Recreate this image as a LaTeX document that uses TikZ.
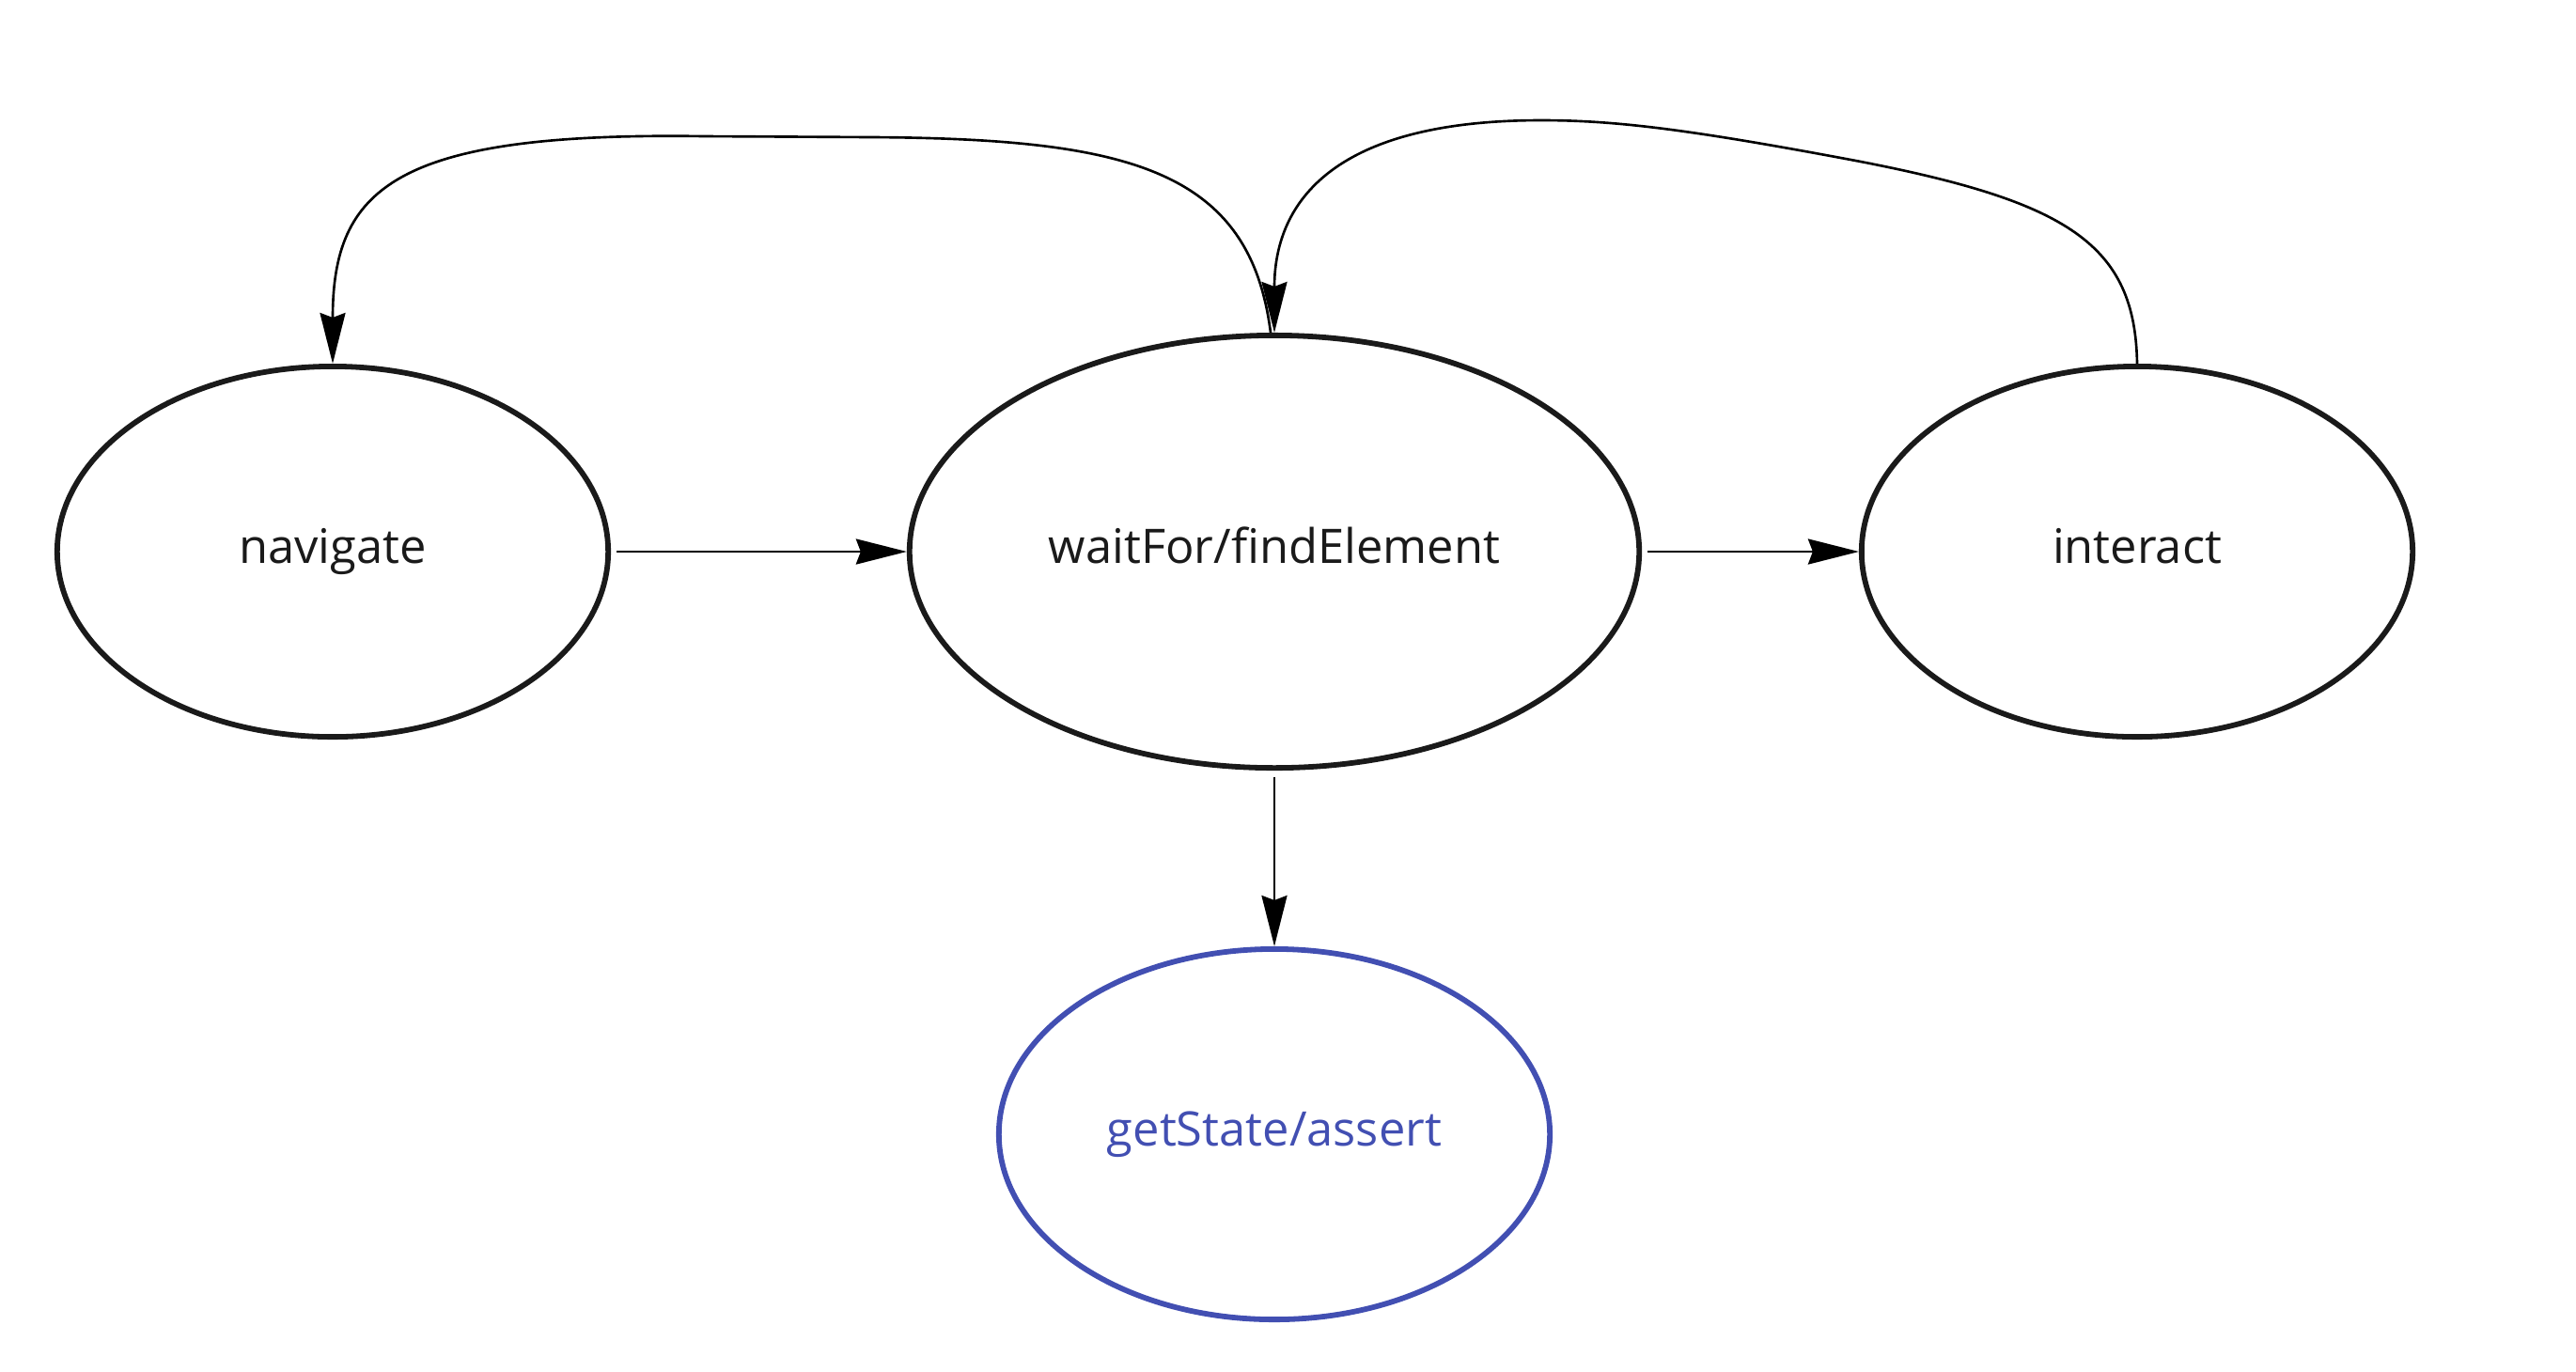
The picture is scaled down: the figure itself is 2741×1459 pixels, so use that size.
\documentclass[tikz,border=0pt]{standalone}
\usepackage{fontspec}
\setmainfont{Open Sans}
\usetikzlibrary{shapes.geometric,arrows.meta}
\definecolor{inkblack}{RGB}{26,26,26}
\definecolor{stateblue}{RGB}{66,79,178}
\tikzset{
  statenode/.style={ellipse, draw=inkblack, line width=1.65pt, inner sep=0pt,
    text=inkblack, font=\fontsize{14.4}{17}\selectfont, text height=10pt, text depth=3pt},
  smallstate/.style={statenode, minimum width=5.86cm, minimum height=3.94cm},
  bigstate/.style={statenode, minimum width=7.76cm, minimum height=4.6cm},
  bluestate/.style={smallstate, draw=stateblue, text=stateblue},
  conn/.style={line width=0.75pt, black, -{Stealth[length=0.54cm,width=0.27cm,inset=0.05cm]}},
  plainconn/.style={line width=0.75pt, black}
}
\begin{document}
\begin{tikzpicture}[x=0.01cm,y=-0.01cm]
\useasboundingbox (0,0) rectangle (2741,1459);
\node[smallstate] (nav) at (354,587) {navigate};
\node[bigstate] (wait) at (1356,587) {waitFor/findElement};
\node[smallstate] (inter) at (2274,587) {interact};
\node[bluestate] (get) at (1356,1207) {getState/assert};

\draw[conn, shorten <=0.06cm] (nav.east) -- (wait.west);
\draw[conn, shorten <=0.06cm] (wait.east) -- (inter.west);
\draw[conn, shorten <=0.07cm] (wait.south) -- (get.north);

% loop back from waitFor to navigate
\draw[conn] ([xshift=-0.04cm]wait.north) .. controls (1330,180) and (1200,148) .. (930,146)
  -- (750,145) .. controls (420,140) and (354,200) .. (nav.north);
% loop back from interact to waitFor
\draw[conn] (inter.north) .. controls (2272,260) and (2200,215) .. (1980,172)
  .. controls (1800,138) and (1720,128) .. (1640,128)
  .. controls (1400,128) and (1356,230) .. (wait.north);
\end{tikzpicture}
\end{document}
